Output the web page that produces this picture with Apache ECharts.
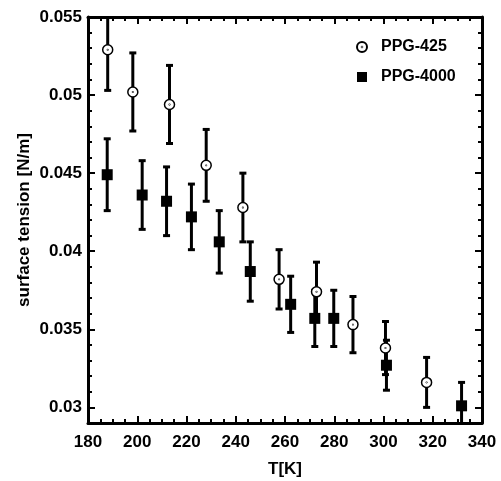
<!DOCTYPE html>
<html><head><meta charset="utf-8">
<script src="https://cdn.jsdelivr.net/npm/echarts@6/dist/echarts.min.js"></script>
<style>html,body{margin:0;padding:0;background:#fff}#c{width:501px;height:481px}</style>
</head><body><div id="c"></div>
<script>
// PPG-425 (open circles)
const temps425 = [188.0, 198.2, 213.1, 228.0, 242.9, 257.6, 272.8, 287.6, 300.8, 317.5];
const tension425 = [0.0529, 0.0502, 0.0494, 0.0455, 0.0428, 0.0382, 0.0374, 0.0353, 0.0338, 0.0316];
const err425 = [0.0026, 0.0025, 0.0025, 0.0023, 0.0022, 0.0019, 0.0019, 0.0018, 0.0017, 0.0016];
// PPG-4000 (filled squares)
const temps4000 = [187.8, 202.0, 211.9, 222.0, 233.3, 245.9, 262.3, 272.1, 279.8, 301.2, 331.7];
const tension4000 = [0.0449, 0.0436, 0.0432, 0.0422, 0.0406, 0.0387, 0.0366, 0.0357, 0.0357, 0.0327, 0.0301];
const err4000 = [0.0023, 0.0022, 0.0022, 0.0021, 0.0020, 0.0019, 0.0018, 0.0018, 0.0018, 0.0016, 0.0015];
// tick labels
const yTickValues = [0.03, 0.035, 0.04, 0.045, 0.05, 0.055];
const yTickLabels = ['0.03', '0.035', '0.04', '0.045', '0.05', '0.055'];
const seriesNames = ['PPG-425', 'PPG-4000'];

const FONT = 'Liberation Sans, Arial, Helvetica, sans-serif';
const circlePath = 'path://M0,10 A10,10 0 1,0 20,10 A10,10 0 1,0 0,10 Z M9.5,10 A0.5,0.5 0 1,0 10.5,10 A0.5,0.5 0 1,0 9.5,10 Z';
const squarePath = 'path://M0,0 L10,0 L10,10 L0,10 Z';

function errRender(params, api) {
  const x = api.value(0), y = api.value(1), e = api.value(2);
  const top = api.coord([x, y + e]);
  const bot = api.coord([x, y - e]);
  const hw = 3.5;
  const style = { stroke: '#000', lineWidth: 3, fill: null };
  return { type: 'group', children: [
    { type: 'line', shape: { x1: top[0], y1: top[1], x2: bot[0], y2: bot[1] }, style: style },
    { type: 'line', shape: { x1: top[0] - hw, y1: top[1], x2: top[0] + hw, y2: top[1] }, style: style },
    { type: 'line', shape: { x1: bot[0] - hw, y1: bot[1], x2: bot[0] + hw, y2: bot[1] }, style: style }
  ]};
}

const lineStyle = { color: '#000', width: 3 };
const tickStyle = { color: '#000', width: 2 };
const labelStyle = { color: '#000', fontSize: 17, fontWeight: 'bold', fontFamily: FONT };

const xBase = { type: 'value', min: 180, max: 340, interval: 20, splitLine: { show: false } };
const yBase = { type: 'value', min: 0.029, max: 0.055, splitLine: { show: false } };

const option = {
  backgroundColor: '#fff',
  animation: false,
  grid: { left: 88, right: 19, top: 17, bottom: 58, containLabel: false, outerBoundsMode: 'none' },
  legend: {
    orient: 'vertical', left: 351, top: 34, itemWidth: 28, itemHeight: 10, itemGap: 14,
    data: [{ name: seriesNames[0], icon: circlePath }, { name: seriesNames[1], icon: squarePath }],
    textStyle: { color: '#000', fontSize: 16, fontWeight: 'bold', fontFamily: FONT }
  },
  xAxis: [
    Object.assign({}, xBase, {
      position: 'bottom',
      name: 'T[K]', nameLocation: 'middle', nameGap: 38, nameMoveOverlap: false,
      nameTextStyle: labelStyle,
      axisLine: { show: true, lineStyle: lineStyle },
      axisTick: { show: true, inside: true, length: 7, lineStyle: tickStyle },
      minorTick: { show: true, splitNumber: 4, length: 4, lineStyle: tickStyle },
      axisLabel: Object.assign({ margin: 11 }, labelStyle)
    }),
    Object.assign({}, xBase, {
      position: 'top',
      axisLine: { show: true, lineStyle: lineStyle },
      axisTick: { show: true, inside: true, length: 7, lineStyle: tickStyle },
      minorTick: { show: true, splitNumber: 4, length: 4, lineStyle: tickStyle },
      axisLabel: { show: false }
    })
  ],
  yAxis: [
    Object.assign({}, yBase, {
      position: 'left', interval: 0.001,
      name: 'surface tension [N/m]', nameLocation: 'middle', nameGap: 55, nameMoveOverlap: false,
      nameTextStyle: labelStyle,
      axisLine: { show: true, lineStyle: lineStyle },
      axisTick: { show: true, inside: true, length: 4, lineStyle: tickStyle },
      axisLabel: Object.assign({ margin: 6, customValues: yTickValues,
        formatter: function (v) { const i = yTickValues.findIndex(t => Math.abs(t - v) < 1e-9); return i >= 0 ? yTickLabels[i] : ''; } }, labelStyle)
    }),
    Object.assign({}, yBase, {
      position: 'left',
      axisLine: { show: false },
      axisTick: { show: true, inside: true, length: 7, lineStyle: tickStyle, customValues: yTickValues },
      axisLabel: { show: false }
    }),
    Object.assign({}, yBase, {
      position: 'right', interval: 0.001,
      axisLine: { show: true, lineStyle: lineStyle },
      axisTick: { show: true, inside: true, length: 4, lineStyle: tickStyle },
      axisLabel: { show: false }
    }),
    Object.assign({}, yBase, {
      position: 'right',
      axisLine: { show: false },
      axisTick: { show: true, inside: true, length: 7, lineStyle: tickStyle, customValues: yTickValues },
      axisLabel: { show: false }
    })
  ],
  series: [
    { name: 'err425', type: 'custom', xAxisIndex: 0, yAxisIndex: 0, clip: true, z: 2,
      renderItem: errRender, encode: { x: 0, y: 1 },
      data: temps425.map((t, i) => [t, tension425[i], err425[i]]) },
    { name: 'err4000', type: 'custom', xAxisIndex: 0, yAxisIndex: 0, clip: true, z: 2,
      renderItem: errRender, encode: { x: 0, y: 1 },
      data: temps4000.map((t, i) => [t, tension4000[i], err4000[i]]) },
    { name: seriesNames[1], type: 'scatter', xAxisIndex: 0, yAxisIndex: 0, z: 3,
      symbol: squarePath, symbolSize: 11,
      itemStyle: { color: '#000', borderWidth: 0, opacity: 1 },
      data: temps4000.map((t, i) => [t, tension4000[i]]) },
    { name: seriesNames[0], type: 'scatter', xAxisIndex: 0, yAxisIndex: 0, z: 4,
      symbol: circlePath, symbolSize: 10,
      itemStyle: { color: '#fff', borderColor: '#000', borderWidth: 1.5, opacity: 1 },
      data: temps425.map((t, i) => [t, tension425[i]]) }
  ]
};
echarts.init(document.getElementById('c'), null, { renderer: 'canvas' }).setOption(option);
</script>
</body></html>
